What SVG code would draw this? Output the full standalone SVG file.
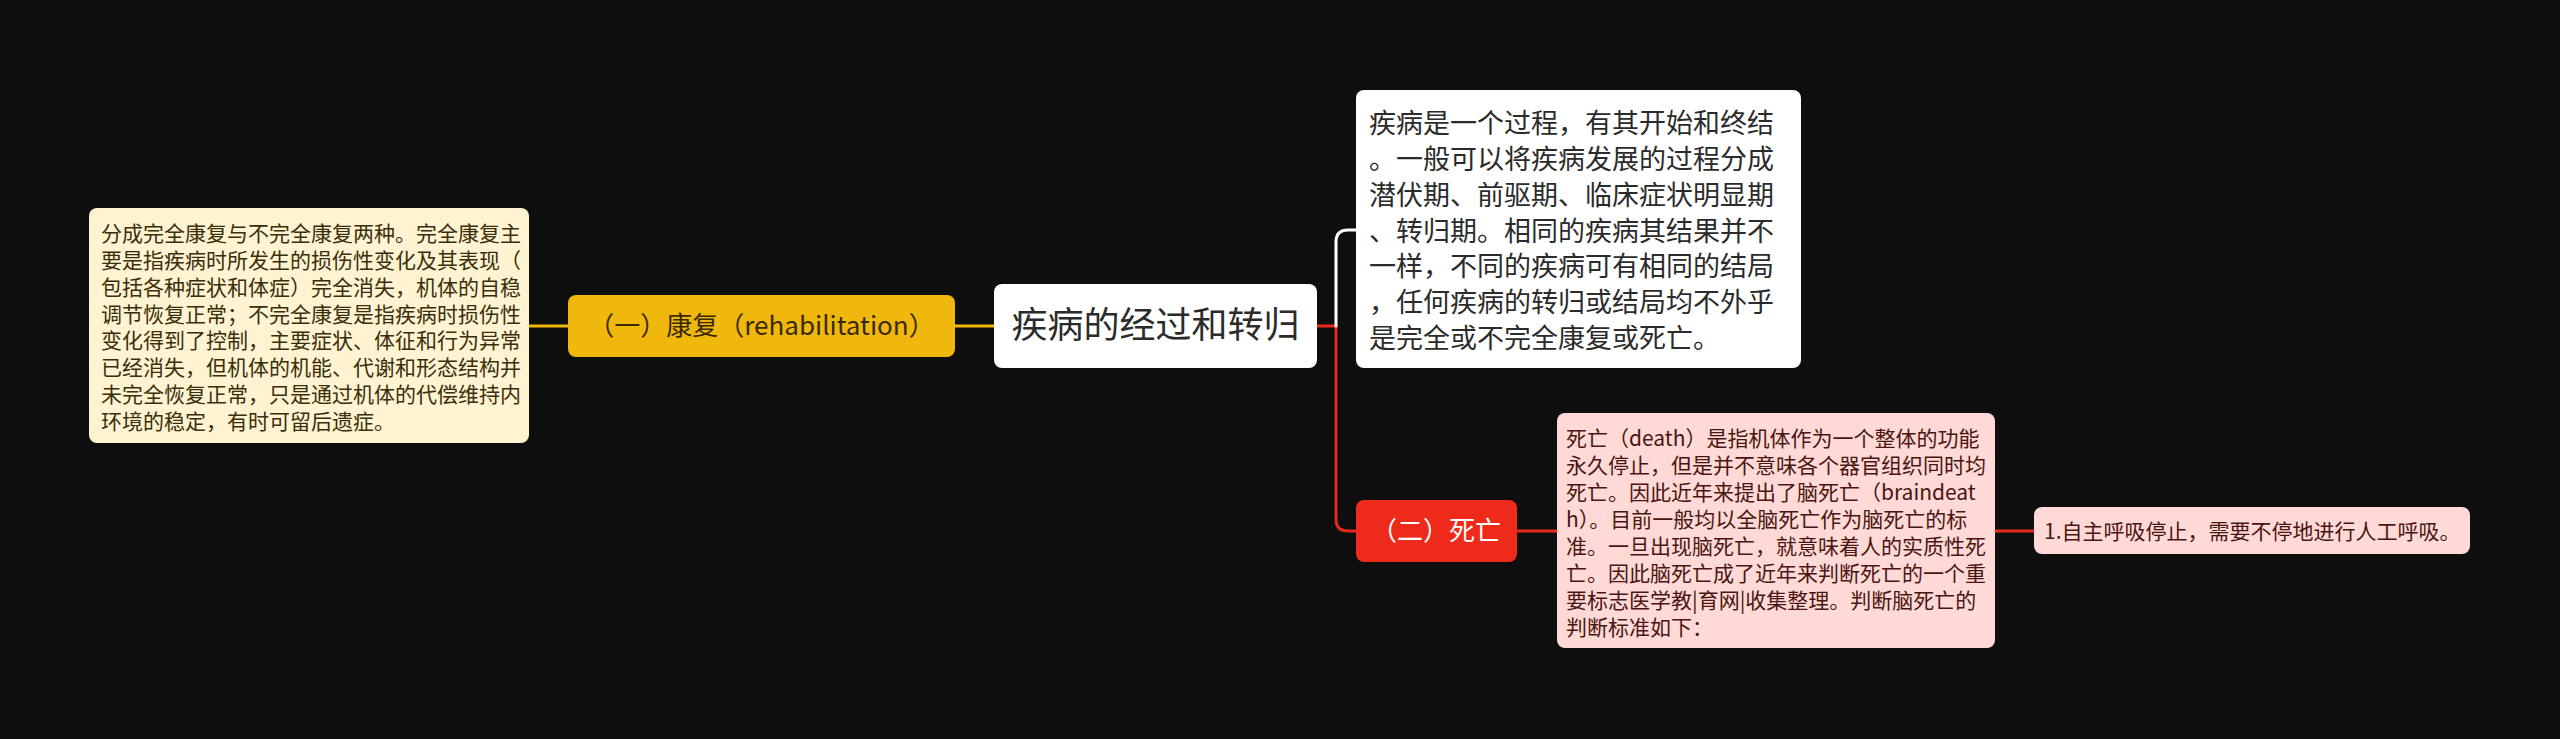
<svg xmlns="http://www.w3.org/2000/svg" width="2560" height="739" viewBox="0 0 2560 739">
  <style>
    .t { font-family: "Noto Sans CJK SC", "Noto Sans", sans-serif; }
    .conn { fill: none; stroke-width: 3; stroke-linecap: round; stroke-linejoin: round; }
    .y { stroke: #F0B70C; }
    .r { stroke: #E8291C; }
    .w { stroke: #FFFFFF; }
  </style>
  <rect x="0" y="0" width="2560" height="739" fill="#0E0E0E"/>

  <g id="connectors">
    <path class="conn y" d="M994,326 H955"/>
    <path class="conn y" d="M568,326 H529"/>
    <path class="conn r" d="M1317,326 H1336 V519 Q1336,531 1348,531 H1356"/>
    <path class="conn w" d="M1336,326 V242 Q1336,230 1348,230 H1356"/>
    <path class="conn r" d="M1517,531 H1557"/>
    <path class="conn r" d="M1995,531 H2034"/>
  </g>

  <g id="root">
    <rect x="994" y="284" width="323" height="84" rx="8" fill="#FFFFFF"/>
    <text class="t" x="1155.5" y="338" font-size="36" fill="#2B2B2B" text-anchor="middle">疾病的经过和转归</text>
  </g>

  <g id="rehab">
    <rect x="568" y="295" width="387" height="62" rx="8" fill="#F0B70C"/>
    <text class="t" x="761.5" y="335" font-size="26" fill="#3A2A00" text-anchor="middle">（一）康复（rehabilitation）</text>
  </g>

  <g id="rehab-detail">
    <rect x="89" y="208" width="440" height="235" rx="8" fill="#FFF3D2"/>
    <g class="t" font-size="21" fill="#3A2F0A">
      <text x="101" y="241">分成完全康复与不完全康复两种。完全康复主</text>
      <text x="101" y="268">要是指疾病时所发生的损伤性变化及其表现（</text>
      <text x="101" y="294.5">包括各种症状和体症）完全消失，机体的自稳</text>
      <text x="101" y="321.5">调节恢复正常；不完全康复是指疾病时损伤性</text>
      <text x="101" y="348">变化得到了控制，主要症状、体征和行为异常</text>
      <text x="101" y="375">已经消失，但机体的机能、代谢和形态结构并</text>
      <text x="101" y="401.5">未完全恢复正常，只是通过机体的代偿维持内</text>
      <text x="101" y="428.5">环境的稳定，有时可留后遗症。</text>
    </g>
  </g>

  <g id="process">
    <rect x="1356" y="90" width="445" height="278" rx="8" fill="#FFFFFF"/>
    <g class="t" font-size="27" fill="#2B2B2B">
      <text x="1369" y="133">疾病是一个过程，有其开始和终结</text>
      <text x="1369" y="169">。一般可以将疾病发展的过程分成</text>
      <text x="1369" y="204.5">潜伏期、前驱期、临床症状明显期</text>
      <text x="1369" y="240.5">、转归期。相同的疾病其结果并不</text>
      <text x="1369" y="276">一样，不同的疾病可有相同的结局</text>
      <text x="1369" y="312">，任何疾病的转归或结局均不外乎</text>
      <text x="1369" y="348">是完全或不完全康复或死亡。</text>
    </g>
  </g>

  <g id="death">
    <rect x="1356" y="500" width="161" height="62" rx="8" fill="#EE2A1A"/>
    <text class="t" x="1436" y="540" font-size="26" fill="#FFFFFF" text-anchor="middle">（二）死亡</text>
  </g>

  <g id="death-detail">
    <rect x="1557" y="413" width="438" height="235" rx="8" fill="#FFD9D5"/>
    <g class="t" font-size="21" fill="#4A1512">
      <text x="1566" y="445.5">死亡（death）是指机体作为一个整体的功能</text>
      <text x="1566" y="472.5">永久停止，但是并不意味各个器官组织同时均</text>
      <text x="1566" y="499.5">死亡。因此近年来提出了脑死亡（braindeat</text>
      <text x="1566" y="526.5">h）。目前一般均以全脑死亡作为脑死亡的标</text>
      <text x="1566" y="554">准。一旦出现脑死亡，就意味着人的实质性死</text>
      <text x="1566" y="581">亡。因此脑死亡成了近年来判断死亡的一个重</text>
      <text x="1566" y="608">要标志医学教|育网|收集整理。判断脑死亡的</text>
      <text x="1566" y="635">判断标准如下：</text>
    </g>
  </g>

  <g id="criterion-1">
    <rect x="2034" y="507" width="436" height="47" rx="8" fill="#FFD9D5"/>
    <text class="t" x="2044" y="539" font-size="21" fill="#4A1512">1.自主呼吸停止，需要不停地进行人工呼吸。</text>
  </g>
</svg>
